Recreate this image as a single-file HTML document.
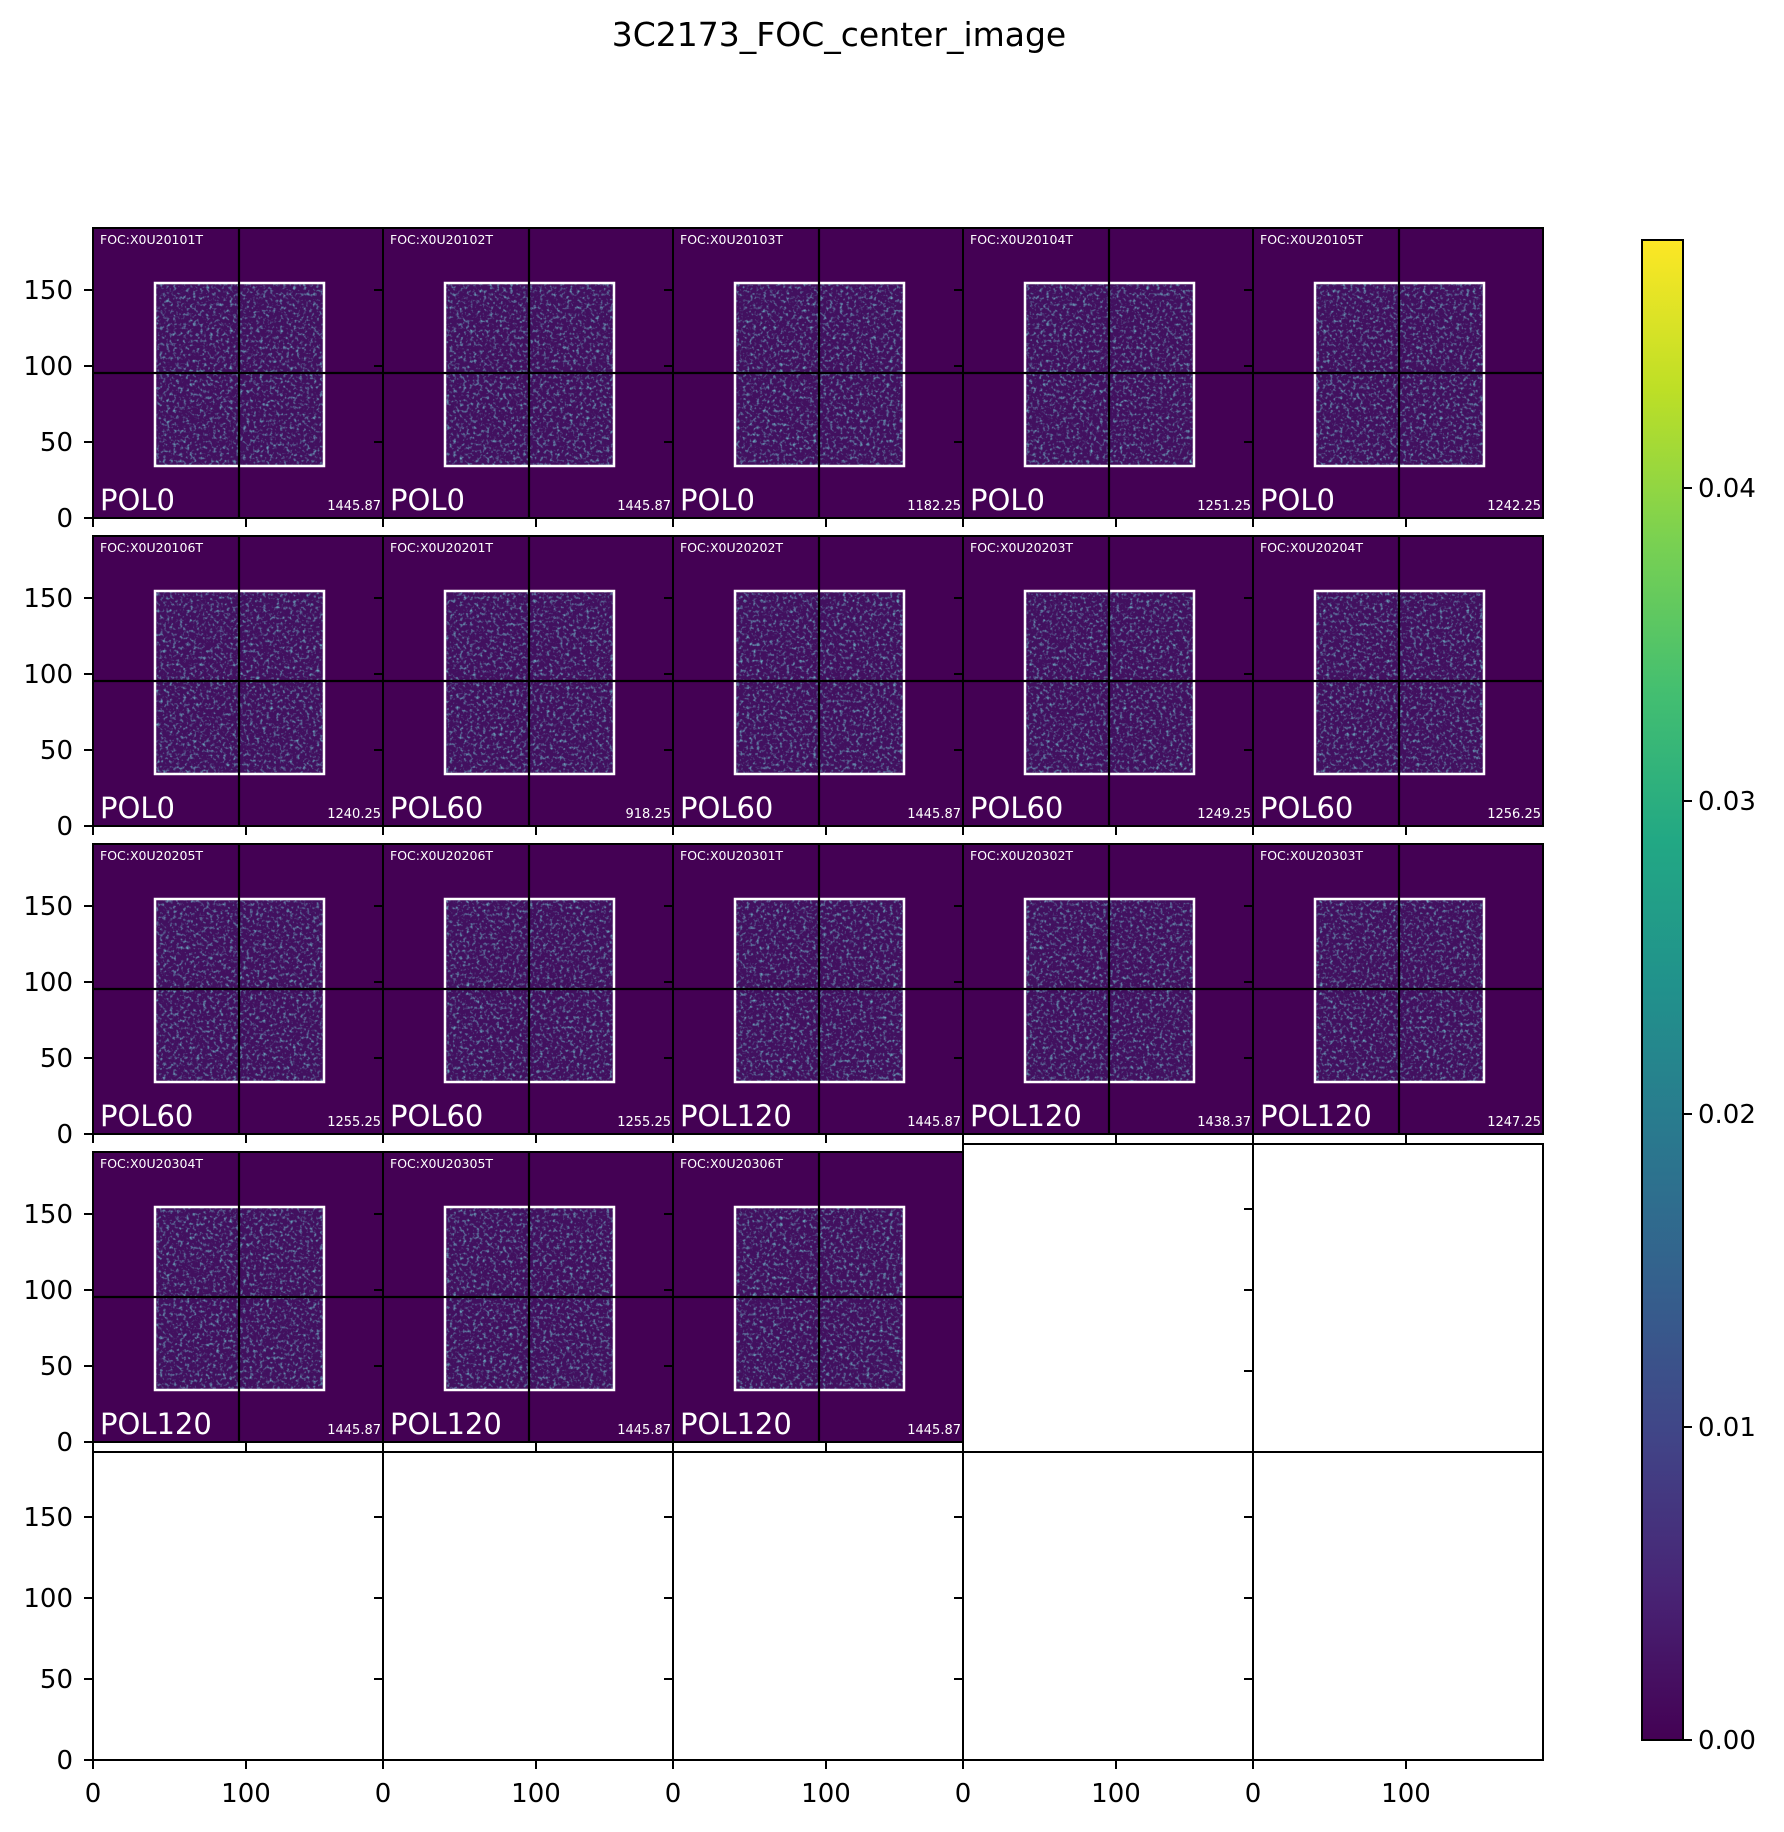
<!DOCTYPE html>
<html><head><meta charset="utf-8"><style>
html,body{margin:0;padding:0;background:#fff;}
svg text{font-family:"DejaVu Sans","Liberation Sans",sans-serif;}
</style></head><body>
<svg id="s" xmlns="http://www.w3.org/2000/svg" width="1784" height="1827" viewBox="0 0 1784 1827">
<defs>
<filter id="nz" x="0" y="0" width="100%" height="100%">
<feTurbulence type="fractalNoise" baseFrequency="0.3" numOctaves="2" seed="3" result="t"/>
<feColorMatrix in="t" type="matrix" values="0 0 0 0 0.15  0 0 0 0 0.45  0 0 0 0 0.55  0 0 0 2.6 -1.35"/>
</filter>
<linearGradient id="vir" x1="0" y1="1" x2="0" y2="0">
<stop offset="0" stop-color="#440154"/><stop offset="0.1" stop-color="#482475"/><stop offset="0.2" stop-color="#414487"/>
<stop offset="0.3" stop-color="#355f8d"/><stop offset="0.4" stop-color="#2a788e"/><stop offset="0.5" stop-color="#21918c"/>
<stop offset="0.6" stop-color="#22a884"/><stop offset="0.7" stop-color="#44bf70"/><stop offset="0.8" stop-color="#7ad151"/>
<stop offset="0.9" stop-color="#bddf26"/><stop offset="1" stop-color="#fde725"/>
</linearGradient>
</defs>
<text x="839" y="46" font-size="33" text-anchor="middle">3C2173_FOC_center_image</text>
</svg>
<script>
const s=document.getElementById('s');let h='';
const X0=93,PW=290,H=290;
const rowsTop=[228,536,844,1152];
const data=[
["FOC:X0U20101T","POL0","1445.87"],["FOC:X0U20102T","POL0","1445.87"],["FOC:X0U20103T","POL0","1182.25"],["FOC:X0U20104T","POL0","1251.25"],["FOC:X0U20105T","POL0","1242.25"],
["FOC:X0U20106T","POL0","1240.25"],["FOC:X0U20201T","POL60","918.25"],["FOC:X0U20202T","POL60","1445.87"],["FOC:X0U20203T","POL60","1249.25"],["FOC:X0U20204T","POL60","1256.25"],
["FOC:X0U20205T","POL60","1255.25"],["FOC:X0U20206T","POL60","1255.25"],["FOC:X0U20301T","POL120","1445.87"],["FOC:X0U20302T","POL120","1438.37"],["FOC:X0U20303T","POL120","1247.25"],
["FOC:X0U20304T","POL120","1445.87"],["FOC:X0U20305T","POL120","1445.87"],["FOC:X0U20306T","POL120","1445.87"]];
const sx=1.53, syI=1.52, syE=1.62, TL=9;
function emptyAx(x,y,h2,labY,labX){
 h+=`<rect x="${x}" y="${y}" width="${PW}" height="${h2}" fill="#fff" stroke="#000" stroke-width="2"/>`;
 for(const v of [0,50,100,150]){const yy=y+h2-v*syE;h+=`<line x1="${x-TL}" y1="${yy}" x2="${x}" y2="${yy}" stroke="#000" stroke-width="2"/>`;
  if(labY)h+=`<text x="${x-20}" y="${yy+9}" font-size="26" text-anchor="end">${v}</text>`;}
 for(const v of [0,100]){const xx=x+v*sx;h+=`<line x1="${xx}" y1="${y+h2}" x2="${xx}" y2="${y+h2+TL}" stroke="#000" stroke-width="2"/>`;
  if(labX)h+=`<text x="${xx}" y="${y+h2+42}" font-size="26" text-anchor="middle">${v}</text>`;}
}
emptyAx(X0+3*PW,1144,308,false,false);emptyAx(X0+4*PW,1144,308,false,false);
for(let c=0;c<5;c++)emptyAx(X0+c*PW,1452,308,c==0,true);
data.forEach((d,i)=>{
 const r=Math.floor(i/5),c=i%5,x=X0+c*PW,y=rowsTop[r];
 h+=`<rect x="${x}" y="${y}" width="${PW}" height="${H}" fill="#440154"/>`;
 h+=`<rect x="${x+63}" y="${y+56}" width="167" height="181" fill="#42105f"/>`;
 h+=`<rect x="${x+63}" y="${y+56}" width="167" height="181" filter="url(#nz)"/>`;
 h+=`<rect x="${x+62}" y="${y+55}" width="169" height="183" fill="none" stroke="#fff" stroke-width="2.5"/>`;
 h+=`<line x1="${x+146}" y1="${y}" x2="${x+146}" y2="${y+H}" stroke="#000" stroke-width="2.2"/>`;
 h+=`<line x1="${x}" y1="${y+145}" x2="${x+PW}" y2="${y+145}" stroke="#000" stroke-width="2.2"/>`;
 h+=`<rect x="${x}" y="${y}" width="${PW}" height="${H}" fill="none" stroke="#000" stroke-width="2"/>`;
 h+=`<text x="${x+7}" y="${y+16}" font-size="12.5" fill="#fff">${d[0]}</text>`;
 h+=`<text x="${x+7}" y="${y+H-8}" font-size="29" fill="#fff">${d[1]}</text>`;
 h+=`<text x="${x+PW-2}" y="${y+H-8}" font-size="13" fill="#fff" text-anchor="end">${d[2]}</text>`;
 for(const v of [0,50,100,150]){const yy=y+H-v*syI;h+=`<line x1="${x-TL}" y1="${yy}" x2="${x}" y2="${yy}" stroke="#000" stroke-width="2"/>`;
  if(c==0)h+=`<text x="${x-20}" y="${yy+9}" font-size="26" text-anchor="end">${v}</text>`;}
 for(const v of [0,100]){const xx=x+v*sx;h+=`<line x1="${xx}" y1="${y+H}" x2="${xx}" y2="${y+H+TL}" stroke="#000" stroke-width="2"/>`;}
});
h+=`<rect x="1642" y="240" width="41" height="1500" fill="url(#vir)" stroke="#000" stroke-width="2"/>`;
["0.00","0.01","0.02","0.03","0.04"].forEach((t,i)=>{const yy=1740-i*313;
 h+=`<line x1="1683" y1="${yy}" x2="1692" y2="${yy}" stroke="#000" stroke-width="2"/><text x="1698" y="${yy+9}" font-size="26">${t}</text>`;});
s.insertAdjacentHTML('beforeend',h);
</script>
</body></html>
